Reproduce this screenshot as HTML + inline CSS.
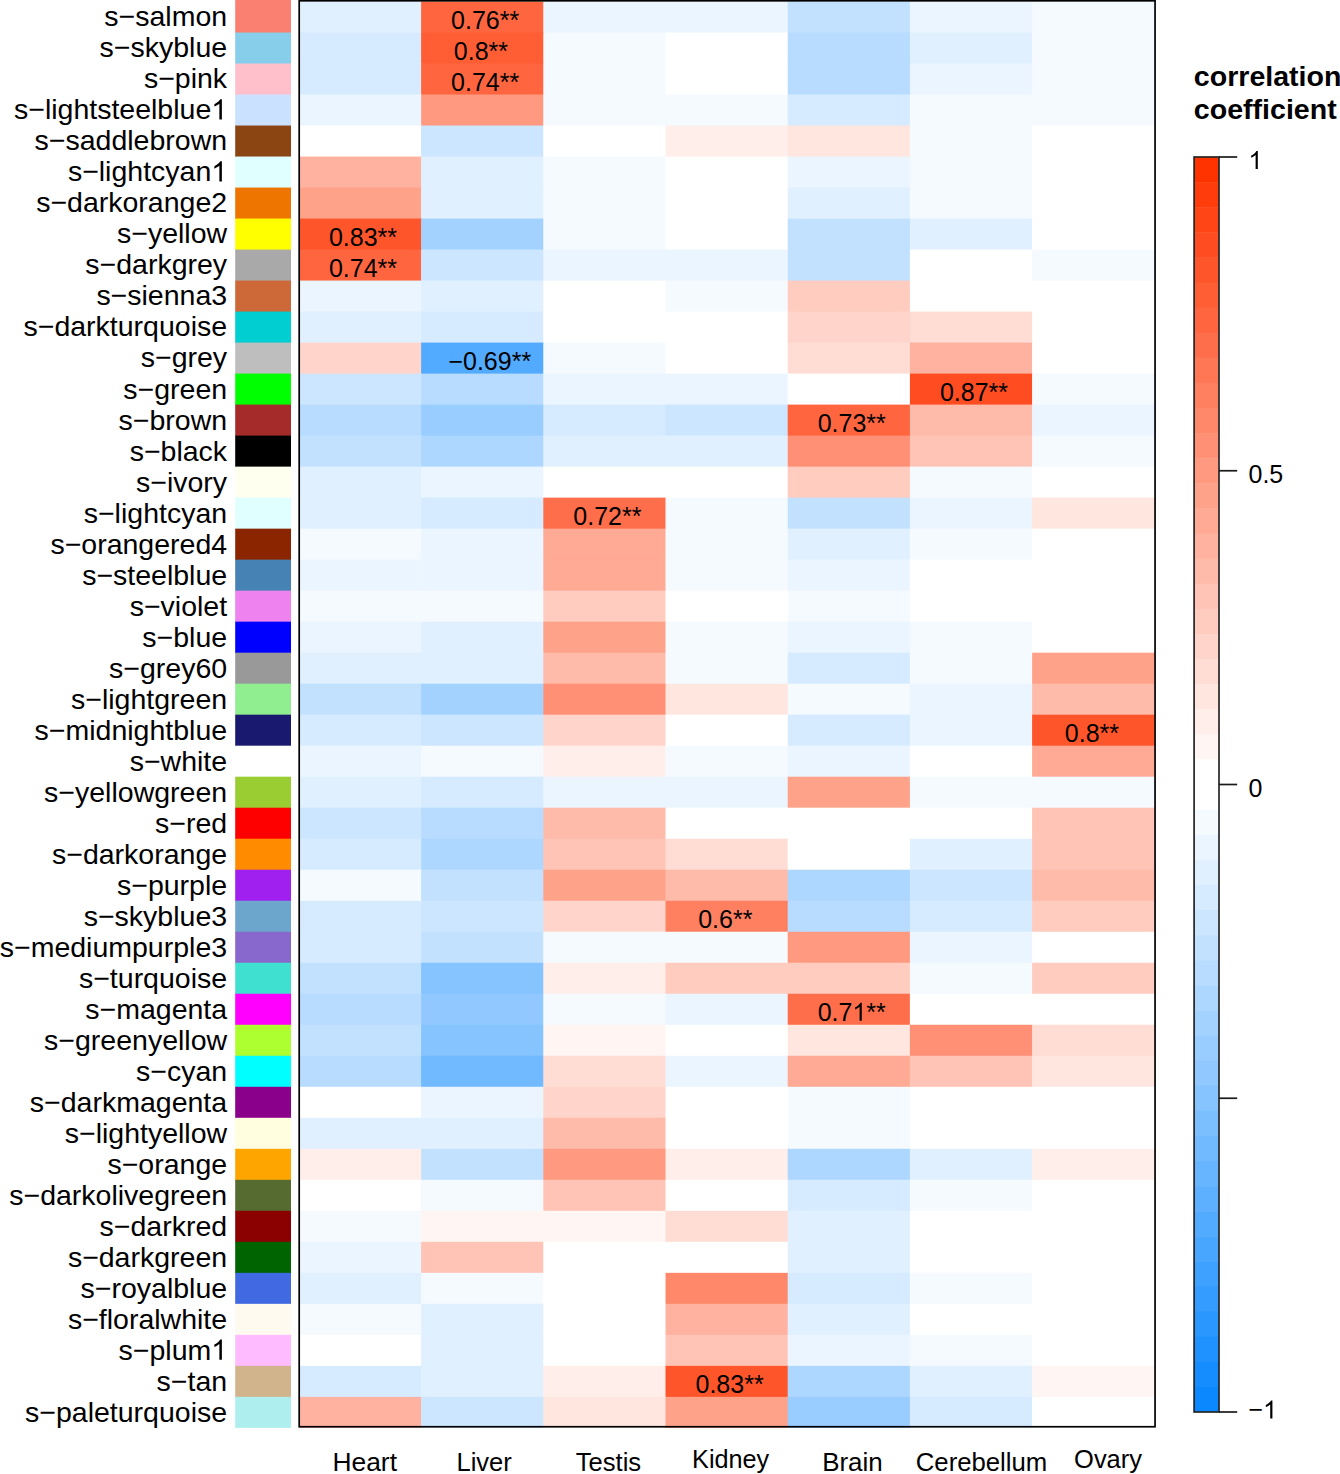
<!DOCTYPE html>
<html><head><meta charset="utf-8"><title>heatmap</title>
<style>
html,body{margin:0;padding:0;background:#fff;overflow:hidden;}
svg{display:block;}
text{font-family:"Liberation Sans",sans-serif;fill:#000;}
.r{font-size:28.2px;text-anchor:end;}
.c{font-size:25.0px;}
.t{font-size:28.2px;font-weight:bold;}
</style></head><body>
<svg width="1340" height="1474" viewBox="0 0 1340 1474">
<rect x="0" y="0" width="1340" height="1474" fill="#fff"/>
<g>
<rect x="235.2" y="0.00" width="55.8" height="33.11" fill="#FA8072"/>
<rect x="235.2" y="32.51" width="55.8" height="31.61" fill="#87CEEB"/>
<rect x="235.2" y="63.52" width="55.8" height="31.61" fill="#FFC0CB"/>
<rect x="235.2" y="94.52" width="55.8" height="31.61" fill="#CAE1FF"/>
<rect x="235.2" y="125.53" width="55.8" height="31.61" fill="#8B4513"/>
<rect x="235.2" y="156.54" width="55.8" height="31.61" fill="#E0FFFF"/>
<rect x="235.2" y="187.55" width="55.8" height="31.61" fill="#EE7600"/>
<rect x="235.2" y="218.56" width="55.8" height="31.61" fill="#FFFF00"/>
<rect x="235.2" y="249.56" width="55.8" height="31.61" fill="#A9A9A9"/>
<rect x="235.2" y="280.57" width="55.8" height="31.61" fill="#CD6839"/>
<rect x="235.2" y="311.58" width="55.8" height="31.61" fill="#00CED1"/>
<rect x="235.2" y="342.59" width="55.8" height="31.61" fill="#BEBEBE"/>
<rect x="235.2" y="373.60" width="55.8" height="31.61" fill="#00FF00"/>
<rect x="235.2" y="404.60" width="55.8" height="31.61" fill="#A52A2A"/>
<rect x="235.2" y="435.61" width="55.8" height="31.61" fill="#000000"/>
<rect x="235.2" y="466.62" width="55.8" height="31.61" fill="#FFFFF0"/>
<rect x="235.2" y="497.63" width="55.8" height="31.61" fill="#E0FFFF"/>
<rect x="235.2" y="528.64" width="55.8" height="31.61" fill="#8B2500"/>
<rect x="235.2" y="559.64" width="55.8" height="31.61" fill="#4682B4"/>
<rect x="235.2" y="590.65" width="55.8" height="31.61" fill="#EE82EE"/>
<rect x="235.2" y="621.66" width="55.8" height="31.61" fill="#0000FF"/>
<rect x="235.2" y="652.67" width="55.8" height="31.61" fill="#999999"/>
<rect x="235.2" y="683.68" width="55.8" height="31.61" fill="#90EE90"/>
<rect x="235.2" y="714.68" width="55.8" height="31.61" fill="#191970"/>
<rect x="235.2" y="745.69" width="55.8" height="31.61" fill="#FFFFFF"/>
<rect x="235.2" y="776.70" width="55.8" height="31.61" fill="#9ACD32"/>
<rect x="235.2" y="807.71" width="55.8" height="31.61" fill="#FF0000"/>
<rect x="235.2" y="838.72" width="55.8" height="31.61" fill="#FF8C00"/>
<rect x="235.2" y="869.72" width="55.8" height="31.61" fill="#A020F0"/>
<rect x="235.2" y="900.73" width="55.8" height="31.61" fill="#6CA6CD"/>
<rect x="235.2" y="931.74" width="55.8" height="31.61" fill="#8968CD"/>
<rect x="235.2" y="962.75" width="55.8" height="31.61" fill="#40E0D0"/>
<rect x="235.2" y="993.76" width="55.8" height="31.61" fill="#FF00FF"/>
<rect x="235.2" y="1024.76" width="55.8" height="31.61" fill="#ADFF2F"/>
<rect x="235.2" y="1055.77" width="55.8" height="31.61" fill="#00FFFF"/>
<rect x="235.2" y="1086.78" width="55.8" height="31.61" fill="#8B008B"/>
<rect x="235.2" y="1117.79" width="55.8" height="31.61" fill="#FFFFE0"/>
<rect x="235.2" y="1148.80" width="55.8" height="31.61" fill="#FFA500"/>
<rect x="235.2" y="1179.80" width="55.8" height="31.61" fill="#556B2F"/>
<rect x="235.2" y="1210.81" width="55.8" height="31.61" fill="#8B0000"/>
<rect x="235.2" y="1241.82" width="55.8" height="31.61" fill="#006400"/>
<rect x="235.2" y="1272.83" width="55.8" height="31.61" fill="#4169E1"/>
<rect x="235.2" y="1303.84" width="55.8" height="31.61" fill="#FFFAF0"/>
<rect x="235.2" y="1334.84" width="55.8" height="31.61" fill="#FFBBFF"/>
<rect x="235.2" y="1365.85" width="55.8" height="31.61" fill="#D2B48C"/>
<rect x="235.2" y="1396.86" width="55.8" height="31.01" fill="#AFEEEE"/>
</g>
<g>
<rect x="298.90" y="1.50" width="122.80" height="31.61" fill="#e1f0ff"/>
<rect x="421.10" y="1.50" width="122.80" height="31.61" fill="#ff6640"/>
<rect x="543.30" y="1.50" width="122.80" height="31.61" fill="#ebf5ff"/>
<rect x="665.50" y="1.50" width="122.80" height="31.61" fill="#ebf5ff"/>
<rect x="787.70" y="1.50" width="122.80" height="31.61" fill="#c2e1ff"/>
<rect x="909.90" y="1.50" width="122.80" height="31.61" fill="#ebf5ff"/>
<rect x="1032.10" y="1.50" width="122.70" height="31.61" fill="#f5faff"/>
<rect x="298.90" y="32.51" width="122.80" height="31.61" fill="#d6ebff"/>
<rect x="421.10" y="32.51" width="122.80" height="31.61" fill="#ff5e35"/>
<rect x="543.30" y="32.51" width="122.80" height="31.61" fill="#f5faff"/>
<rect x="665.50" y="32.51" width="122.80" height="31.61" fill="#ffffff"/>
<rect x="787.70" y="32.51" width="122.80" height="31.61" fill="#b8dcff"/>
<rect x="909.90" y="32.51" width="122.80" height="31.61" fill="#e1f0ff"/>
<rect x="1032.10" y="32.51" width="122.70" height="31.61" fill="#f5faff"/>
<rect x="298.90" y="63.52" width="122.80" height="31.61" fill="#d6ebff"/>
<rect x="421.10" y="63.52" width="122.80" height="31.61" fill="#ff6640"/>
<rect x="543.30" y="63.52" width="122.80" height="31.61" fill="#f5faff"/>
<rect x="665.50" y="63.52" width="122.80" height="31.61" fill="#ffffff"/>
<rect x="787.70" y="63.52" width="122.80" height="31.61" fill="#b8dcff"/>
<rect x="909.90" y="63.52" width="122.80" height="31.61" fill="#ebf5ff"/>
<rect x="1032.10" y="63.52" width="122.70" height="31.61" fill="#f5faff"/>
<rect x="298.90" y="94.52" width="122.80" height="31.61" fill="#ebf5ff"/>
<rect x="421.10" y="94.52" width="122.80" height="31.61" fill="#ff9980"/>
<rect x="543.30" y="94.52" width="122.80" height="31.61" fill="#f5faff"/>
<rect x="665.50" y="94.52" width="122.80" height="31.61" fill="#f5faff"/>
<rect x="787.70" y="94.52" width="122.80" height="31.61" fill="#d6ebff"/>
<rect x="909.90" y="94.52" width="122.80" height="31.61" fill="#f5faff"/>
<rect x="1032.10" y="94.52" width="122.70" height="31.61" fill="#f5faff"/>
<rect x="298.90" y="125.53" width="122.80" height="31.61" fill="#ffffff"/>
<rect x="421.10" y="125.53" width="122.80" height="31.61" fill="#cce6ff"/>
<rect x="543.30" y="125.53" width="122.80" height="31.61" fill="#ffffff"/>
<rect x="665.50" y="125.53" width="122.80" height="31.61" fill="#ffeeea"/>
<rect x="787.70" y="125.53" width="122.80" height="31.61" fill="#ffe6df"/>
<rect x="909.90" y="125.53" width="122.80" height="31.61" fill="#f5faff"/>
<rect x="1032.10" y="125.53" width="122.70" height="31.61" fill="#ffffff"/>
<rect x="298.90" y="156.54" width="122.80" height="31.61" fill="#ffb29f"/>
<rect x="421.10" y="156.54" width="122.80" height="31.61" fill="#e1f0ff"/>
<rect x="543.30" y="156.54" width="122.80" height="31.61" fill="#f5faff"/>
<rect x="665.50" y="156.54" width="122.80" height="31.61" fill="#ffffff"/>
<rect x="787.70" y="156.54" width="122.80" height="31.61" fill="#ebf5ff"/>
<rect x="909.90" y="156.54" width="122.80" height="31.61" fill="#f5faff"/>
<rect x="1032.10" y="156.54" width="122.70" height="31.61" fill="#ffffff"/>
<rect x="298.90" y="187.55" width="122.80" height="31.61" fill="#ffa28a"/>
<rect x="421.10" y="187.55" width="122.80" height="31.61" fill="#e1f0ff"/>
<rect x="543.30" y="187.55" width="122.80" height="31.61" fill="#f5faff"/>
<rect x="665.50" y="187.55" width="122.80" height="31.61" fill="#ffffff"/>
<rect x="787.70" y="187.55" width="122.80" height="31.61" fill="#e1f0ff"/>
<rect x="909.90" y="187.55" width="122.80" height="31.61" fill="#f5faff"/>
<rect x="1032.10" y="187.55" width="122.70" height="31.61" fill="#ffffff"/>
<rect x="298.90" y="218.56" width="122.80" height="31.61" fill="#ff552a"/>
<rect x="421.10" y="218.56" width="122.80" height="31.61" fill="#a4d2ff"/>
<rect x="543.30" y="218.56" width="122.80" height="31.61" fill="#f5faff"/>
<rect x="665.50" y="218.56" width="122.80" height="31.61" fill="#ffffff"/>
<rect x="787.70" y="218.56" width="122.80" height="31.61" fill="#c2e1ff"/>
<rect x="909.90" y="218.56" width="122.80" height="31.61" fill="#e1f0ff"/>
<rect x="1032.10" y="218.56" width="122.70" height="31.61" fill="#ffffff"/>
<rect x="298.90" y="249.56" width="122.80" height="31.61" fill="#ff6640"/>
<rect x="421.10" y="249.56" width="122.80" height="31.61" fill="#cce6ff"/>
<rect x="543.30" y="249.56" width="122.80" height="31.61" fill="#ebf5ff"/>
<rect x="665.50" y="249.56" width="122.80" height="31.61" fill="#ebf5ff"/>
<rect x="787.70" y="249.56" width="122.80" height="31.61" fill="#c2e1ff"/>
<rect x="909.90" y="249.56" width="122.80" height="31.61" fill="#ffffff"/>
<rect x="1032.10" y="249.56" width="122.70" height="31.61" fill="#f5faff"/>
<rect x="298.90" y="280.57" width="122.80" height="31.61" fill="#ebf5ff"/>
<rect x="421.10" y="280.57" width="122.80" height="31.61" fill="#e1f0ff"/>
<rect x="543.30" y="280.57" width="122.80" height="31.61" fill="#ffffff"/>
<rect x="665.50" y="280.57" width="122.80" height="31.61" fill="#f5faff"/>
<rect x="787.70" y="280.57" width="122.80" height="31.61" fill="#ffccbf"/>
<rect x="909.90" y="280.57" width="122.80" height="31.61" fill="#ffffff"/>
<rect x="1032.10" y="280.57" width="122.70" height="31.61" fill="#ffffff"/>
<rect x="298.90" y="311.58" width="122.80" height="31.61" fill="#e1f0ff"/>
<rect x="421.10" y="311.58" width="122.80" height="31.61" fill="#d6ebff"/>
<rect x="543.30" y="311.58" width="122.80" height="31.61" fill="#ffffff"/>
<rect x="665.50" y="311.58" width="122.80" height="31.61" fill="#ffffff"/>
<rect x="787.70" y="311.58" width="122.80" height="31.61" fill="#ffd4ca"/>
<rect x="909.90" y="311.58" width="122.80" height="31.61" fill="#ffddd4"/>
<rect x="1032.10" y="311.58" width="122.70" height="31.61" fill="#ffffff"/>
<rect x="298.90" y="342.59" width="122.80" height="31.61" fill="#ffd4ca"/>
<rect x="421.10" y="342.59" width="122.80" height="31.61" fill="#53abff"/>
<rect x="543.30" y="342.59" width="122.80" height="31.61" fill="#f5faff"/>
<rect x="665.50" y="342.59" width="122.80" height="31.61" fill="#ffffff"/>
<rect x="787.70" y="342.59" width="122.80" height="31.61" fill="#ffddd4"/>
<rect x="909.90" y="342.59" width="122.80" height="31.61" fill="#ffb29f"/>
<rect x="1032.10" y="342.59" width="122.70" height="31.61" fill="#ffffff"/>
<rect x="298.90" y="373.60" width="122.80" height="31.61" fill="#cce6ff"/>
<rect x="421.10" y="373.60" width="122.80" height="31.61" fill="#b8dcff"/>
<rect x="543.30" y="373.60" width="122.80" height="31.61" fill="#ebf5ff"/>
<rect x="665.50" y="373.60" width="122.80" height="31.61" fill="#ebf5ff"/>
<rect x="787.70" y="373.60" width="122.80" height="31.61" fill="#ffffff"/>
<rect x="909.90" y="373.60" width="122.80" height="31.61" fill="#ff4c20"/>
<rect x="1032.10" y="373.60" width="122.70" height="31.61" fill="#f5faff"/>
<rect x="298.90" y="404.60" width="122.80" height="31.61" fill="#b8dcff"/>
<rect x="421.10" y="404.60" width="122.80" height="31.61" fill="#9acdff"/>
<rect x="543.30" y="404.60" width="122.80" height="31.61" fill="#d6ebff"/>
<rect x="665.50" y="404.60" width="122.80" height="31.61" fill="#cce6ff"/>
<rect x="787.70" y="404.60" width="122.80" height="31.61" fill="#ff6640"/>
<rect x="909.90" y="404.60" width="122.80" height="31.61" fill="#ffbbaa"/>
<rect x="1032.10" y="404.60" width="122.70" height="31.61" fill="#ebf5ff"/>
<rect x="298.90" y="435.61" width="122.80" height="31.61" fill="#c2e1ff"/>
<rect x="421.10" y="435.61" width="122.80" height="31.61" fill="#aed7ff"/>
<rect x="543.30" y="435.61" width="122.80" height="31.61" fill="#e1f0ff"/>
<rect x="665.50" y="435.61" width="122.80" height="31.61" fill="#e1f0ff"/>
<rect x="787.70" y="435.61" width="122.80" height="31.61" fill="#ff9075"/>
<rect x="909.90" y="435.61" width="122.80" height="31.61" fill="#ffc4b5"/>
<rect x="1032.10" y="435.61" width="122.70" height="31.61" fill="#f5faff"/>
<rect x="298.90" y="466.62" width="122.80" height="31.61" fill="#e1f0ff"/>
<rect x="421.10" y="466.62" width="122.80" height="31.61" fill="#ebf5ff"/>
<rect x="543.30" y="466.62" width="122.80" height="31.61" fill="#ffffff"/>
<rect x="665.50" y="466.62" width="122.80" height="31.61" fill="#ffffff"/>
<rect x="787.70" y="466.62" width="122.80" height="31.61" fill="#ffccbf"/>
<rect x="909.90" y="466.62" width="122.80" height="31.61" fill="#f5faff"/>
<rect x="1032.10" y="466.62" width="122.70" height="31.61" fill="#ffffff"/>
<rect x="298.90" y="497.63" width="122.80" height="31.61" fill="#e1f0ff"/>
<rect x="421.10" y="497.63" width="122.80" height="31.61" fill="#d6ebff"/>
<rect x="543.30" y="497.63" width="122.80" height="31.61" fill="#ff6e4a"/>
<rect x="665.50" y="497.63" width="122.80" height="31.61" fill="#f5faff"/>
<rect x="787.70" y="497.63" width="122.80" height="31.61" fill="#c2e1ff"/>
<rect x="909.90" y="497.63" width="122.80" height="31.61" fill="#ebf5ff"/>
<rect x="1032.10" y="497.63" width="122.70" height="31.61" fill="#ffe6df"/>
<rect x="298.90" y="528.64" width="122.80" height="31.61" fill="#f5faff"/>
<rect x="421.10" y="528.64" width="122.80" height="31.61" fill="#ebf5ff"/>
<rect x="543.30" y="528.64" width="122.80" height="31.61" fill="#ffaa95"/>
<rect x="665.50" y="528.64" width="122.80" height="31.61" fill="#f5faff"/>
<rect x="787.70" y="528.64" width="122.80" height="31.61" fill="#e1f0ff"/>
<rect x="909.90" y="528.64" width="122.80" height="31.61" fill="#f5faff"/>
<rect x="1032.10" y="528.64" width="122.70" height="31.61" fill="#ffffff"/>
<rect x="298.90" y="559.64" width="122.80" height="31.61" fill="#ebf5ff"/>
<rect x="421.10" y="559.64" width="122.80" height="31.61" fill="#ebf5ff"/>
<rect x="543.30" y="559.64" width="122.80" height="31.61" fill="#ffaa95"/>
<rect x="665.50" y="559.64" width="122.80" height="31.61" fill="#f5faff"/>
<rect x="787.70" y="559.64" width="122.80" height="31.61" fill="#ebf5ff"/>
<rect x="909.90" y="559.64" width="122.80" height="31.61" fill="#ffffff"/>
<rect x="1032.10" y="559.64" width="122.70" height="31.61" fill="#ffffff"/>
<rect x="298.90" y="590.65" width="122.80" height="31.61" fill="#f5faff"/>
<rect x="421.10" y="590.65" width="122.80" height="31.61" fill="#f5faff"/>
<rect x="543.30" y="590.65" width="122.80" height="31.61" fill="#ffccbf"/>
<rect x="665.50" y="590.65" width="122.80" height="31.61" fill="#ffffff"/>
<rect x="787.70" y="590.65" width="122.80" height="31.61" fill="#f5faff"/>
<rect x="909.90" y="590.65" width="122.80" height="31.61" fill="#ffffff"/>
<rect x="1032.10" y="590.65" width="122.70" height="31.61" fill="#ffffff"/>
<rect x="298.90" y="621.66" width="122.80" height="31.61" fill="#ebf5ff"/>
<rect x="421.10" y="621.66" width="122.80" height="31.61" fill="#e1f0ff"/>
<rect x="543.30" y="621.66" width="122.80" height="31.61" fill="#ffa28a"/>
<rect x="665.50" y="621.66" width="122.80" height="31.61" fill="#f5faff"/>
<rect x="787.70" y="621.66" width="122.80" height="31.61" fill="#ebf5ff"/>
<rect x="909.90" y="621.66" width="122.80" height="31.61" fill="#f5faff"/>
<rect x="1032.10" y="621.66" width="122.70" height="31.61" fill="#ffffff"/>
<rect x="298.90" y="652.67" width="122.80" height="31.61" fill="#e1f0ff"/>
<rect x="421.10" y="652.67" width="122.80" height="31.61" fill="#e1f0ff"/>
<rect x="543.30" y="652.67" width="122.80" height="31.61" fill="#ffbbaa"/>
<rect x="665.50" y="652.67" width="122.80" height="31.61" fill="#f5faff"/>
<rect x="787.70" y="652.67" width="122.80" height="31.61" fill="#d6ebff"/>
<rect x="909.90" y="652.67" width="122.80" height="31.61" fill="#f5faff"/>
<rect x="1032.10" y="652.67" width="122.70" height="31.61" fill="#ffa28a"/>
<rect x="298.90" y="683.68" width="122.80" height="31.61" fill="#c2e1ff"/>
<rect x="421.10" y="683.68" width="122.80" height="31.61" fill="#a4d2ff"/>
<rect x="543.30" y="683.68" width="122.80" height="31.61" fill="#ff9075"/>
<rect x="665.50" y="683.68" width="122.80" height="31.61" fill="#ffe6df"/>
<rect x="787.70" y="683.68" width="122.80" height="31.61" fill="#f5faff"/>
<rect x="909.90" y="683.68" width="122.80" height="31.61" fill="#ebf5ff"/>
<rect x="1032.10" y="683.68" width="122.70" height="31.61" fill="#ffbbaa"/>
<rect x="298.90" y="714.68" width="122.80" height="31.61" fill="#d6ebff"/>
<rect x="421.10" y="714.68" width="122.80" height="31.61" fill="#cce6ff"/>
<rect x="543.30" y="714.68" width="122.80" height="31.61" fill="#ffd4ca"/>
<rect x="665.50" y="714.68" width="122.80" height="31.61" fill="#ffffff"/>
<rect x="787.70" y="714.68" width="122.80" height="31.61" fill="#d6ebff"/>
<rect x="909.90" y="714.68" width="122.80" height="31.61" fill="#ebf5ff"/>
<rect x="1032.10" y="714.68" width="122.70" height="31.61" fill="#ff552a"/>
<rect x="298.90" y="745.69" width="122.80" height="31.61" fill="#ebf5ff"/>
<rect x="421.10" y="745.69" width="122.80" height="31.61" fill="#f5faff"/>
<rect x="543.30" y="745.69" width="122.80" height="31.61" fill="#ffeeea"/>
<rect x="665.50" y="745.69" width="122.80" height="31.61" fill="#f5faff"/>
<rect x="787.70" y="745.69" width="122.80" height="31.61" fill="#ebf5ff"/>
<rect x="909.90" y="745.69" width="122.80" height="31.61" fill="#ffffff"/>
<rect x="1032.10" y="745.69" width="122.70" height="31.61" fill="#ffaa95"/>
<rect x="298.90" y="776.70" width="122.80" height="31.61" fill="#e1f0ff"/>
<rect x="421.10" y="776.70" width="122.80" height="31.61" fill="#d6ebff"/>
<rect x="543.30" y="776.70" width="122.80" height="31.61" fill="#ebf5ff"/>
<rect x="665.50" y="776.70" width="122.80" height="31.61" fill="#ebf5ff"/>
<rect x="787.70" y="776.70" width="122.80" height="31.61" fill="#ffa28a"/>
<rect x="909.90" y="776.70" width="122.80" height="31.61" fill="#f5faff"/>
<rect x="1032.10" y="776.70" width="122.70" height="31.61" fill="#f5faff"/>
<rect x="298.90" y="807.71" width="122.80" height="31.61" fill="#cce6ff"/>
<rect x="421.10" y="807.71" width="122.80" height="31.61" fill="#b8dcff"/>
<rect x="543.30" y="807.71" width="122.80" height="31.61" fill="#ffbbaa"/>
<rect x="665.50" y="807.71" width="122.80" height="31.61" fill="#ffffff"/>
<rect x="787.70" y="807.71" width="122.80" height="31.61" fill="#ffffff"/>
<rect x="909.90" y="807.71" width="122.80" height="31.61" fill="#ffffff"/>
<rect x="1032.10" y="807.71" width="122.70" height="31.61" fill="#ffc4b5"/>
<rect x="298.90" y="838.72" width="122.80" height="31.61" fill="#d6ebff"/>
<rect x="421.10" y="838.72" width="122.80" height="31.61" fill="#aed7ff"/>
<rect x="543.30" y="838.72" width="122.80" height="31.61" fill="#ffc4b5"/>
<rect x="665.50" y="838.72" width="122.80" height="31.61" fill="#ffddd4"/>
<rect x="787.70" y="838.72" width="122.80" height="31.61" fill="#ffffff"/>
<rect x="909.90" y="838.72" width="122.80" height="31.61" fill="#e1f0ff"/>
<rect x="1032.10" y="838.72" width="122.70" height="31.61" fill="#ffc4b5"/>
<rect x="298.90" y="869.72" width="122.80" height="31.61" fill="#f5faff"/>
<rect x="421.10" y="869.72" width="122.80" height="31.61" fill="#c2e1ff"/>
<rect x="543.30" y="869.72" width="122.80" height="31.61" fill="#ffa28a"/>
<rect x="665.50" y="869.72" width="122.80" height="31.61" fill="#ffbbaa"/>
<rect x="787.70" y="869.72" width="122.80" height="31.61" fill="#aed7ff"/>
<rect x="909.90" y="869.72" width="122.80" height="31.61" fill="#cce6ff"/>
<rect x="1032.10" y="869.72" width="122.70" height="31.61" fill="#ffbbaa"/>
<rect x="298.90" y="900.73" width="122.80" height="31.61" fill="#d6ebff"/>
<rect x="421.10" y="900.73" width="122.80" height="31.61" fill="#cce6ff"/>
<rect x="543.30" y="900.73" width="122.80" height="31.61" fill="#ffd4ca"/>
<rect x="665.50" y="900.73" width="122.80" height="31.61" fill="#ff8060"/>
<rect x="787.70" y="900.73" width="122.80" height="31.61" fill="#b8dcff"/>
<rect x="909.90" y="900.73" width="122.80" height="31.61" fill="#d6ebff"/>
<rect x="1032.10" y="900.73" width="122.70" height="31.61" fill="#ffccbf"/>
<rect x="298.90" y="931.74" width="122.80" height="31.61" fill="#d6ebff"/>
<rect x="421.10" y="931.74" width="122.80" height="31.61" fill="#c2e1ff"/>
<rect x="543.30" y="931.74" width="122.80" height="31.61" fill="#f5faff"/>
<rect x="665.50" y="931.74" width="122.80" height="31.61" fill="#f5faff"/>
<rect x="787.70" y="931.74" width="122.80" height="31.61" fill="#ff9980"/>
<rect x="909.90" y="931.74" width="122.80" height="31.61" fill="#ebf5ff"/>
<rect x="1032.10" y="931.74" width="122.70" height="31.61" fill="#ffffff"/>
<rect x="298.90" y="962.75" width="122.80" height="31.61" fill="#c2e1ff"/>
<rect x="421.10" y="962.75" width="122.80" height="31.61" fill="#86c4ff"/>
<rect x="543.30" y="962.75" width="122.80" height="31.61" fill="#ffeeea"/>
<rect x="665.50" y="962.75" width="122.80" height="31.61" fill="#ffccbf"/>
<rect x="787.70" y="962.75" width="122.80" height="31.61" fill="#ffccbf"/>
<rect x="909.90" y="962.75" width="122.80" height="31.61" fill="#f5faff"/>
<rect x="1032.10" y="962.75" width="122.70" height="31.61" fill="#ffccbf"/>
<rect x="298.90" y="993.76" width="122.80" height="31.61" fill="#b8dcff"/>
<rect x="421.10" y="993.76" width="122.80" height="31.61" fill="#90c8ff"/>
<rect x="543.30" y="993.76" width="122.80" height="31.61" fill="#f5faff"/>
<rect x="665.50" y="993.76" width="122.80" height="31.61" fill="#ebf5ff"/>
<rect x="787.70" y="993.76" width="122.80" height="31.61" fill="#ff6e4a"/>
<rect x="909.90" y="993.76" width="122.80" height="31.61" fill="#ffffff"/>
<rect x="1032.10" y="993.76" width="122.70" height="31.61" fill="#ffffff"/>
<rect x="298.90" y="1024.76" width="122.80" height="31.61" fill="#c2e1ff"/>
<rect x="421.10" y="1024.76" width="122.80" height="31.61" fill="#86c4ff"/>
<rect x="543.30" y="1024.76" width="122.80" height="31.61" fill="#fff6f4"/>
<rect x="665.50" y="1024.76" width="122.80" height="31.61" fill="#ffffff"/>
<rect x="787.70" y="1024.76" width="122.80" height="31.61" fill="#ffe6df"/>
<rect x="909.90" y="1024.76" width="122.80" height="31.61" fill="#ff9075"/>
<rect x="1032.10" y="1024.76" width="122.70" height="31.61" fill="#ffddd4"/>
<rect x="298.90" y="1055.77" width="122.80" height="31.61" fill="#b8dcff"/>
<rect x="421.10" y="1055.77" width="122.80" height="31.61" fill="#71baff"/>
<rect x="543.30" y="1055.77" width="122.80" height="31.61" fill="#ffddd4"/>
<rect x="665.50" y="1055.77" width="122.80" height="31.61" fill="#ebf5ff"/>
<rect x="787.70" y="1055.77" width="122.80" height="31.61" fill="#ffaa95"/>
<rect x="909.90" y="1055.77" width="122.80" height="31.61" fill="#ffc4b5"/>
<rect x="1032.10" y="1055.77" width="122.70" height="31.61" fill="#ffe6df"/>
<rect x="298.90" y="1086.78" width="122.80" height="31.61" fill="#ffffff"/>
<rect x="421.10" y="1086.78" width="122.80" height="31.61" fill="#ebf5ff"/>
<rect x="543.30" y="1086.78" width="122.80" height="31.61" fill="#ffd4ca"/>
<rect x="665.50" y="1086.78" width="122.80" height="31.61" fill="#ffffff"/>
<rect x="787.70" y="1086.78" width="122.80" height="31.61" fill="#f5faff"/>
<rect x="909.90" y="1086.78" width="122.80" height="31.61" fill="#ffffff"/>
<rect x="1032.10" y="1086.78" width="122.70" height="31.61" fill="#ffffff"/>
<rect x="298.90" y="1117.79" width="122.80" height="31.61" fill="#e1f0ff"/>
<rect x="421.10" y="1117.79" width="122.80" height="31.61" fill="#e1f0ff"/>
<rect x="543.30" y="1117.79" width="122.80" height="31.61" fill="#ffbbaa"/>
<rect x="665.50" y="1117.79" width="122.80" height="31.61" fill="#ffffff"/>
<rect x="787.70" y="1117.79" width="122.80" height="31.61" fill="#f5faff"/>
<rect x="909.90" y="1117.79" width="122.80" height="31.61" fill="#ffffff"/>
<rect x="1032.10" y="1117.79" width="122.70" height="31.61" fill="#ffffff"/>
<rect x="298.90" y="1148.80" width="122.80" height="31.61" fill="#ffeeea"/>
<rect x="421.10" y="1148.80" width="122.80" height="31.61" fill="#c2e1ff"/>
<rect x="543.30" y="1148.80" width="122.80" height="31.61" fill="#ff9980"/>
<rect x="665.50" y="1148.80" width="122.80" height="31.61" fill="#ffeeea"/>
<rect x="787.70" y="1148.80" width="122.80" height="31.61" fill="#aed7ff"/>
<rect x="909.90" y="1148.80" width="122.80" height="31.61" fill="#e1f0ff"/>
<rect x="1032.10" y="1148.80" width="122.70" height="31.61" fill="#ffeeea"/>
<rect x="298.90" y="1179.80" width="122.80" height="31.61" fill="#ffffff"/>
<rect x="421.10" y="1179.80" width="122.80" height="31.61" fill="#f5faff"/>
<rect x="543.30" y="1179.80" width="122.80" height="31.61" fill="#ffc4b5"/>
<rect x="665.50" y="1179.80" width="122.80" height="31.61" fill="#ffffff"/>
<rect x="787.70" y="1179.80" width="122.80" height="31.61" fill="#d6ebff"/>
<rect x="909.90" y="1179.80" width="122.80" height="31.61" fill="#f5faff"/>
<rect x="1032.10" y="1179.80" width="122.70" height="31.61" fill="#ffffff"/>
<rect x="298.90" y="1210.81" width="122.80" height="31.61" fill="#f5faff"/>
<rect x="421.10" y="1210.81" width="122.80" height="31.61" fill="#fff6f4"/>
<rect x="543.30" y="1210.81" width="122.80" height="31.61" fill="#fff6f4"/>
<rect x="665.50" y="1210.81" width="122.80" height="31.61" fill="#ffddd4"/>
<rect x="787.70" y="1210.81" width="122.80" height="31.61" fill="#e1f0ff"/>
<rect x="909.90" y="1210.81" width="122.80" height="31.61" fill="#ffffff"/>
<rect x="1032.10" y="1210.81" width="122.70" height="31.61" fill="#ffffff"/>
<rect x="298.90" y="1241.82" width="122.80" height="31.61" fill="#ebf5ff"/>
<rect x="421.10" y="1241.82" width="122.80" height="31.61" fill="#ffc4b5"/>
<rect x="543.30" y="1241.82" width="122.80" height="31.61" fill="#ffffff"/>
<rect x="665.50" y="1241.82" width="122.80" height="31.61" fill="#ffffff"/>
<rect x="787.70" y="1241.82" width="122.80" height="31.61" fill="#e1f0ff"/>
<rect x="909.90" y="1241.82" width="122.80" height="31.61" fill="#ffffff"/>
<rect x="1032.10" y="1241.82" width="122.70" height="31.61" fill="#ffffff"/>
<rect x="298.90" y="1272.83" width="122.80" height="31.61" fill="#e1f0ff"/>
<rect x="421.10" y="1272.83" width="122.80" height="31.61" fill="#f5faff"/>
<rect x="543.30" y="1272.83" width="122.80" height="31.61" fill="#ffffff"/>
<rect x="665.50" y="1272.83" width="122.80" height="31.61" fill="#ff886a"/>
<rect x="787.70" y="1272.83" width="122.80" height="31.61" fill="#d6ebff"/>
<rect x="909.90" y="1272.83" width="122.80" height="31.61" fill="#f5faff"/>
<rect x="1032.10" y="1272.83" width="122.70" height="31.61" fill="#ffffff"/>
<rect x="298.90" y="1303.84" width="122.80" height="31.61" fill="#f5faff"/>
<rect x="421.10" y="1303.84" width="122.80" height="31.61" fill="#e1f0ff"/>
<rect x="543.30" y="1303.84" width="122.80" height="31.61" fill="#ffffff"/>
<rect x="665.50" y="1303.84" width="122.80" height="31.61" fill="#ffb29f"/>
<rect x="787.70" y="1303.84" width="122.80" height="31.61" fill="#e1f0ff"/>
<rect x="909.90" y="1303.84" width="122.80" height="31.61" fill="#ffffff"/>
<rect x="1032.10" y="1303.84" width="122.70" height="31.61" fill="#ffffff"/>
<rect x="298.90" y="1334.84" width="122.80" height="31.61" fill="#ffffff"/>
<rect x="421.10" y="1334.84" width="122.80" height="31.61" fill="#e1f0ff"/>
<rect x="543.30" y="1334.84" width="122.80" height="31.61" fill="#ffffff"/>
<rect x="665.50" y="1334.84" width="122.80" height="31.61" fill="#ffc4b5"/>
<rect x="787.70" y="1334.84" width="122.80" height="31.61" fill="#ebf5ff"/>
<rect x="909.90" y="1334.84" width="122.80" height="31.61" fill="#f5faff"/>
<rect x="1032.10" y="1334.84" width="122.70" height="31.61" fill="#ffffff"/>
<rect x="298.90" y="1365.85" width="122.80" height="31.61" fill="#d6ebff"/>
<rect x="421.10" y="1365.85" width="122.80" height="31.61" fill="#e1f0ff"/>
<rect x="543.30" y="1365.85" width="122.80" height="31.61" fill="#ffeeea"/>
<rect x="665.50" y="1365.85" width="122.80" height="31.61" fill="#ff552a"/>
<rect x="787.70" y="1365.85" width="122.80" height="31.61" fill="#aed7ff"/>
<rect x="909.90" y="1365.85" width="122.80" height="31.61" fill="#e1f0ff"/>
<rect x="1032.10" y="1365.85" width="122.70" height="31.61" fill="#fff6f4"/>
<rect x="298.90" y="1396.86" width="122.80" height="31.01" fill="#ffb29f"/>
<rect x="421.10" y="1396.86" width="122.80" height="31.01" fill="#cce6ff"/>
<rect x="543.30" y="1396.86" width="122.80" height="31.01" fill="#ffe6df"/>
<rect x="665.50" y="1396.86" width="122.80" height="31.01" fill="#ffa28a"/>
<rect x="787.70" y="1396.86" width="122.80" height="31.01" fill="#9acdff"/>
<rect x="909.90" y="1396.86" width="122.80" height="31.01" fill="#d6ebff"/>
<rect x="1032.10" y="1396.86" width="122.70" height="31.01" fill="#ffffff"/>
</g>
<rect x="299.2" y="0.8" width="855.85" height="1425.95" fill="none" stroke="#000" stroke-width="1.7"/>
<g class="r">
<text transform="translate(227.1 26.40) scale(1.011 1)">s−salmon</text>
<text transform="translate(227.1 57.41) scale(1.011 1)">s−skyblue</text>
<text transform="translate(227.1 88.42) scale(1.011 1)">s−pink</text>
<text transform="translate(211.25 119.43) scale(1.011 1)">s−lightsteelblue</text>
<path transform="translate(211.25 119.43) scale(0.013921 -0.013770)" d="M763 0H583V1147Q518 1085 412 1023T223 930V1104Q374 1175 486 1276T645 1472H763Z"/>
<text transform="translate(227.1 150.44) scale(1.011 1)">s−saddlebrown</text>
<text transform="translate(211.25 181.44) scale(1.011 1)">s−lightcyan</text>
<path transform="translate(211.25 181.44) scale(0.013921 -0.013770)" d="M763 0H583V1147Q518 1085 412 1023T223 930V1104Q374 1175 486 1276T645 1472H763Z"/>
<text transform="translate(227.1 212.45) scale(1.011 1)">s−darkorange2</text>
<text transform="translate(227.1 243.46) scale(1.011 1)">s−yellow</text>
<text transform="translate(227.1 274.47) scale(1.011 1)">s−darkgrey</text>
<text transform="translate(227.1 305.48) scale(1.011 1)">s−sienna3</text>
<text transform="translate(227.1 336.48) scale(1.011 1)">s−darkturquoise</text>
<text transform="translate(227.1 367.49) scale(1.011 1)">s−grey</text>
<text transform="translate(227.1 398.50) scale(1.011 1)">s−green</text>
<text transform="translate(227.1 429.51) scale(1.011 1)">s−brown</text>
<text transform="translate(227.1 460.52) scale(1.011 1)">s−black</text>
<text transform="translate(227.1 491.52) scale(1.011 1)">s−ivory</text>
<text transform="translate(227.1 522.53) scale(1.011 1)">s−lightcyan</text>
<text transform="translate(227.1 553.54) scale(1.011 1)">s−orangered4</text>
<text transform="translate(227.1 584.55) scale(1.011 1)">s−steelblue</text>
<text transform="translate(227.1 615.56) scale(1.011 1)">s−violet</text>
<text transform="translate(227.1 646.56) scale(1.011 1)">s−blue</text>
<text transform="translate(227.1 677.57) scale(1.011 1)">s−grey60</text>
<text transform="translate(227.1 708.58) scale(1.011 1)">s−lightgreen</text>
<text transform="translate(227.1 739.59) scale(1.011 1)">s−midnightblue</text>
<text transform="translate(227.1 770.60) scale(1.011 1)">s−white</text>
<text transform="translate(227.1 801.60) scale(1.011 1)">s−yellowgreen</text>
<text transform="translate(227.1 832.61) scale(1.011 1)">s−red</text>
<text transform="translate(227.1 863.62) scale(1.011 1)">s−darkorange</text>
<text transform="translate(227.1 894.63) scale(1.011 1)">s−purple</text>
<text transform="translate(227.1 925.64) scale(1.011 1)">s−skyblue3</text>
<text transform="translate(227.1 956.64) scale(1.011 1)">s−mediumpurple3</text>
<text transform="translate(227.1 987.65) scale(1.011 1)">s−turquoise</text>
<text transform="translate(227.1 1018.66) scale(1.011 1)">s−magenta</text>
<text transform="translate(227.1 1049.67) scale(1.011 1)">s−greenyellow</text>
<text transform="translate(227.1 1080.68) scale(1.011 1)">s−cyan</text>
<text transform="translate(227.1 1111.68) scale(1.011 1)">s−darkmagenta</text>
<text transform="translate(227.1 1142.69) scale(1.011 1)">s−lightyellow</text>
<text transform="translate(227.1 1173.70) scale(1.011 1)">s−orange</text>
<text transform="translate(227.1 1204.71) scale(1.011 1)">s−darkolivegreen</text>
<text transform="translate(227.1 1235.72) scale(1.011 1)">s−darkred</text>
<text transform="translate(227.1 1266.72) scale(1.011 1)">s−darkgreen</text>
<text transform="translate(227.1 1297.73) scale(1.011 1)">s−royalblue</text>
<text transform="translate(227.1 1328.74) scale(1.011 1)">s−floralwhite</text>
<text transform="translate(211.25 1359.75) scale(1.011 1)">s−plum</text>
<path transform="translate(211.25 1359.75) scale(0.013921 -0.013770)" d="M763 0H583V1147Q518 1085 412 1023T223 930V1104Q374 1175 486 1276T645 1472H763Z"/>
<text transform="translate(227.1 1390.76) scale(1.011 1)">s−tan</text>
<text transform="translate(227.1 1421.76) scale(1.011 1)">s−paleturquoise</text>
</g>
<g class="c">
<text x="451.10" y="28.55">0.76**</text>
<text x="453.80" y="59.56">0.8**</text>
<text x="451.10" y="90.57">0.74**</text>
<text x="328.90" y="245.61">0.83**</text>
<text x="328.90" y="276.61">0.74**</text>
<text x="448.40" y="369.64">−0.69**</text>
<text x="939.90" y="400.65">0.87**</text>
<text x="817.70" y="431.65">0.73**</text>
<text x="573.30" y="524.68">0.72**</text>
<text x="1064.80" y="741.73">0.8**</text>
<text x="698.20" y="927.78">0.6**</text>
<text x="817.70" y="1020.81">0.7</text>
<path transform="translate(852.45 1020.81) scale(0.012207 -0.012207)" d="M763 0H583V1147Q518 1085 412 1023T223 930V1104Q374 1175 486 1276T645 1472H763Z"/>
<text x="866.35" y="1020.81">**</text>
<text x="695.50" y="1392.90">0.83**</text>
</g>
<g class="c">
<text transform="translate(332.39 1470.50) scale(1.057 1)">Heart</text>
<text transform="translate(456.46 1470.50) scale(1.021 1)">Liver</text>
<text transform="translate(575.79 1470.50) scale(1.023 1)">Testis</text>
<text transform="translate(692.08 1467.90) scale(1.009 1)">Kidney</text>
<text transform="translate(822.13 1470.50) scale(1.039 1)">Brain</text>
<text transform="translate(915.77 1470.50) scale(1.029 1)">Cerebellum</text>
<text transform="translate(1074.08 1467.90) scale(1.019 1)">Ovary</text>
</g>
<text class="t" transform="translate(1193.8 85.8) scale(1.014 1)">correlation</text>
<text class="t" transform="translate(1193.8 119.3) scale(1.014 1)">coefficient</text>
<g>
<rect x="1194" y="157.00" width="25" height="25.60" fill="#ff3300"/>
<rect x="1194" y="182.10" width="25" height="25.60" fill="#ff3c0b"/>
<rect x="1194" y="207.20" width="25" height="25.60" fill="#ff4415"/>
<rect x="1194" y="232.30" width="25" height="25.60" fill="#ff4c20"/>
<rect x="1194" y="257.40" width="25" height="25.60" fill="#ff552a"/>
<rect x="1194" y="282.50" width="25" height="25.60" fill="#ff5e35"/>
<rect x="1194" y="307.60" width="25" height="25.60" fill="#ff6640"/>
<rect x="1194" y="332.70" width="25" height="25.60" fill="#ff6e4a"/>
<rect x="1194" y="357.80" width="25" height="25.60" fill="#ff7755"/>
<rect x="1194" y="382.90" width="25" height="25.60" fill="#ff8060"/>
<rect x="1194" y="408.00" width="25" height="25.60" fill="#ff886a"/>
<rect x="1194" y="433.10" width="25" height="25.60" fill="#ff9075"/>
<rect x="1194" y="458.20" width="25" height="25.60" fill="#ff9980"/>
<rect x="1194" y="483.30" width="25" height="25.60" fill="#ffa28a"/>
<rect x="1194" y="508.40" width="25" height="25.60" fill="#ffaa95"/>
<rect x="1194" y="533.50" width="25" height="25.60" fill="#ffb29f"/>
<rect x="1194" y="558.60" width="25" height="25.60" fill="#ffbbaa"/>
<rect x="1194" y="583.70" width="25" height="25.60" fill="#ffc4b5"/>
<rect x="1194" y="608.80" width="25" height="25.60" fill="#ffccbf"/>
<rect x="1194" y="633.90" width="25" height="25.60" fill="#ffd4ca"/>
<rect x="1194" y="659.00" width="25" height="25.60" fill="#ffddd4"/>
<rect x="1194" y="684.10" width="25" height="25.60" fill="#ffe6df"/>
<rect x="1194" y="709.20" width="25" height="25.60" fill="#ffeeea"/>
<rect x="1194" y="734.30" width="25" height="25.60" fill="#fff6f4"/>
<rect x="1194" y="759.40" width="25" height="25.60" fill="#ffffff"/>
<rect x="1194" y="784.50" width="25" height="25.60" fill="#ffffff"/>
<rect x="1194" y="809.60" width="25" height="25.60" fill="#f5faff"/>
<rect x="1194" y="834.70" width="25" height="25.60" fill="#ebf5ff"/>
<rect x="1194" y="859.80" width="25" height="25.60" fill="#e1f0ff"/>
<rect x="1194" y="884.90" width="25" height="25.60" fill="#d6ebff"/>
<rect x="1194" y="910.00" width="25" height="25.60" fill="#cce6ff"/>
<rect x="1194" y="935.10" width="25" height="25.60" fill="#c2e1ff"/>
<rect x="1194" y="960.20" width="25" height="25.60" fill="#b8dcff"/>
<rect x="1194" y="985.30" width="25" height="25.60" fill="#aed7ff"/>
<rect x="1194" y="1010.40" width="25" height="25.60" fill="#a4d2ff"/>
<rect x="1194" y="1035.50" width="25" height="25.60" fill="#9acdff"/>
<rect x="1194" y="1060.60" width="25" height="25.60" fill="#90c8ff"/>
<rect x="1194" y="1085.70" width="25" height="25.60" fill="#86c4ff"/>
<rect x="1194" y="1110.80" width="25" height="25.60" fill="#7bbfff"/>
<rect x="1194" y="1135.90" width="25" height="25.60" fill="#71baff"/>
<rect x="1194" y="1161.00" width="25" height="25.60" fill="#67b5ff"/>
<rect x="1194" y="1186.10" width="25" height="25.60" fill="#5db0ff"/>
<rect x="1194" y="1211.20" width="25" height="25.60" fill="#53abff"/>
<rect x="1194" y="1236.30" width="25" height="25.60" fill="#49a6ff"/>
<rect x="1194" y="1261.40" width="25" height="25.60" fill="#3fa1ff"/>
<rect x="1194" y="1286.50" width="25" height="25.60" fill="#349cff"/>
<rect x="1194" y="1311.60" width="25" height="25.60" fill="#2a97ff"/>
<rect x="1194" y="1336.70" width="25" height="25.60" fill="#2092ff"/>
<rect x="1194" y="1361.80" width="25" height="25.60" fill="#168dff"/>
<rect x="1194" y="1386.90" width="25" height="25.10" fill="#0c88ff"/>
</g>
<rect x="1194.1" y="157" width="24.9" height="1255" fill="none" stroke="#262626" stroke-width="1.7"/>
<line x1="1219" y1="157.00" x2="1237.2" y2="157.00" stroke="#1a1a1a" stroke-width="1.7"/>
<path transform="translate(1248.50 169.00) scale(0.012207 -0.012207)" d="M763 0H583V1147Q518 1085 412 1023T223 930V1104Q374 1175 486 1276T645 1472H763Z"/>
<line x1="1219" y1="470.75" x2="1237.2" y2="470.75" stroke="#1a1a1a" stroke-width="1.7"/>
<text class="c" x="1248.5" y="483.20">0.5</text>
<line x1="1219" y1="784.50" x2="1237.2" y2="784.50" stroke="#1a1a1a" stroke-width="1.7"/>
<text class="c" x="1248.5" y="797.20">0</text>
<line x1="1219" y1="1098.25" x2="1237.2" y2="1098.25" stroke="#1a1a1a" stroke-width="1.7"/>
<line x1="1219" y1="1412.00" x2="1237.2" y2="1412.00" stroke="#1a1a1a" stroke-width="1.7"/>
<text class="c" x="1248.5" y="1418.40">−</text>
<path transform="translate(1263.10 1418.40) scale(0.012207 -0.012207)" d="M763 0H583V1147Q518 1085 412 1023T223 930V1104Q374 1175 486 1276T645 1472H763Z"/>
</svg>
</body></html>
